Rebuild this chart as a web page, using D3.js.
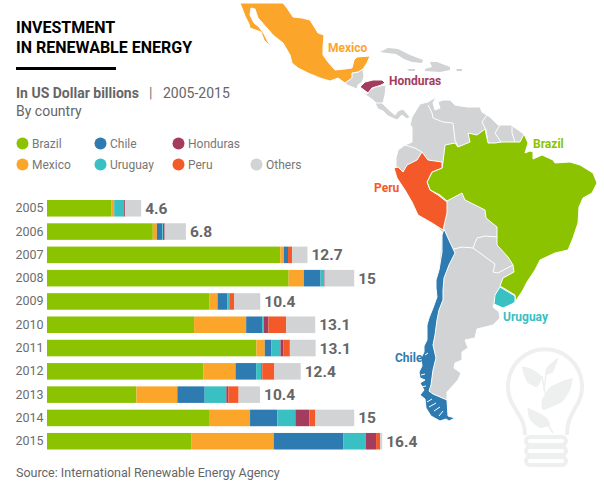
<!DOCTYPE html>
<html>
<head>
<meta charset="utf-8">
<script src="https://d3js.org/d3.v7.min.js"></script>
<style>
  body { margin: 0; background: #fff; }
  text { font-family: Roboto, sans-serif; }
</style>
</head>
<body>
<svg width="604" height="491"></svg>
<script>
// Data for the chart
const years = ["2005","2006","2007","2008","2009","2010","2011","2012","2013","2014","2015"];
const totals = ["4.6","6.8","12.7","15","10.4","13.1","13.1","12.4","10.4","15","16.4"];
const brazil =   [3.14, 5.18, 11.42, 11.83, 7.94, 7.20, 10.25, 7.65, 4.38, 7.93, 7.08];
const mexico =   [0.15, 0.20, 0.18, 0.74, 0.41, 2.55, 0.41, 1.58, 2.00, 2.01, 4.02];
const chile =    [0, 0.27, 0.20, 0.82, 0.47, 0.78, 0.33, 1.01, 1.34, 1.34, 3.40];
const uruguay =  [0.49, 0.03, 0, 0.15, 0.10, 0.08, 0.44, 0.25, 1.06, 0.88, 1.11];
const honduras = [0.05, 0.08, 0, 0.05, 0, 0.23, 0.15, 0.05, 0.10, 0.69, 0.50];
const peru =     [0, 0, 0.20, 0, 0.25, 0.87, 0.31, 0.59, 0.50, 0.29, 0.20];
const others =   [0.78, 1.04, 0.75, 1.45, 1.27, 1.42, 1.26, 1.29, 1.05, 1.90, 0.10];

const seriesNames = ["Brazil","Mexico","Chile","Uruguay","Honduras","Peru","Others"];
const seriesValues = [brazil, mexico, chile, uruguay, honduras, peru, others];
const colors = {
  Brazil: "#8bc300", Mexico: "#fca52b", Chile: "#2e7bb2", Uruguay: "#38c0c3",
  Honduras: "#a33c5d", Peru: "#f4592a", Others: "#d1d3d4"
};
const legendRows = [["Brazil","Chile","Honduras"],["Mexico","Uruguay","Peru","Others"]];

// Map outlines
const landShape = [[410,125],[412,117],[420,104],[428,102],[436,97],[433,103],[435,110],[440,108],[438,102],[443,100],[450,100],[455,105],[467,107],[480,107],[482,112],[490,117],[498,125],[511,125],[524,134],[530,200],[515,300],[494,304],[493,307],[499,312],[500,318],[493,325],[477,329],[475,338],[465,340],[468,348],[462,352],[462,360],[455,363],[454,368],[461,373],[458,380],[447,392],[447,401],[428,392],[426,340],[436,300],[442,232],[425,215],[402,172],[396,167],[396,158],[398,150],[405,145],[412,142],[412,127]];
const brazilShape = [[445,145],[455,143],[458,147],[470,142],[468,133],[477,135],[485,129],[488,143],[495,143],[502,142],[513,142],[520,142],[524,134],[528,143],[525,153],[530,151],[533,152],[533,159],[542,155],[553,160],[555,163],[570,162],[580,165],[593,173],[597,183],[592,193],[583,198],[579,207],[578,223],[573,238],[568,250],[555,253],[540,260],[535,270],[527,282],[523,290],[515,302],[515,295],[500,286],[503,278],[514,272],[513,265],[508,257],[497,245],[497,227],[486,218],[485,210],[465,200],[462,193],[447,201],[440,195],[430,190],[427,182],[432,172],[442,168],[443,162]];
const peruShape = [[422,152],[428,160],[442,162],[442,168],[432,172],[427,182],[430,190],[438,195],[447,202],[447,213],[443,230],[432,223],[418,215],[412,202],[405,190],[397,178],[394,168],[398,167],[403,172],[407,165],[417,160]];
const chileShape = [[444,229],[448,238],[455,253],[449,265],[444,278],[443,290],[443,300],[439,310],[437,320],[435,335],[433,345],[436,358],[433,370],[431,385],[429,391],[433,394],[447,400],[448,416],[455,418],[449,421],[446,419],[440,421],[431,416],[426,408],[425,399],[420,395],[424,390],[420,383],[425,380],[420,378],[419,372],[422,366],[421,358],[424,352],[424,346],[427,340],[427,325],[429,318],[433,308],[437,297],[436,288],[436,280],[439,270],[442,252],[442,235]];
const uruguayShape = [[500,287],[515,296],[515,302],[512,304],[503,308],[494,304],[495,295]];
const mexicoShape = [[240,3],[283,3],[287,8],[293,17],[302,18],[310,20],[315,28],[318,33],[324,35],[323,47],[323,55],[328,62],[335,70],[345,69],[352,68],[354,60],[357,57],[370,56],[367,63],[363,69],[358,72],[352,73],[352,78],[345,83],[338,78],[330,81],[320,78],[308,73],[298,68],[292,63],[290,55],[283,43],[273,35],[267,28],[258,18],[255,9],[251,8],[250,15],[254,23],[259,27],[264,34],[268,42],[272,48],[264,40],[261,32],[250,28],[249,24],[245,16]];
const hondurasShape = [[360,87],[365,82],[373,80],[382,80],[385,83],[380,85.5],[375,87],[372,88],[368,93],[364,90]];
const grayShapes = [
  [[352,73],[358,72],[363,69],[364,77],[362,82],[358,85],[357,89],[347,85],[345,83]],
  [[357,89],[367,94],[370,90],[375,87],[386,85],[385,95],[383,103],[377,104],[373,100]],
  [[375,103],[382,103],[388,109],[395,115],[398,111],[403,109],[410,117],[407,119],[402,115],[397,120],[388,116],[383,111],[378,109]]
];
const islandShapes = [
  [[380,52],[388,48],[398,49],[410,55],[423,60],[422,63],[412,62],[404,59],[396,54],[387,53]],
  [[430,62],[437,62],[450,67],[450,70],[440,72],[425,71],[425,69],[432,67]],
  [[407,69],[415,69],[415,71],[409,71]],
  [[456,69],[462,69],[462,71],[457,71]]
];
const borderLines = [
  [[405,145],[415,148],[422,152]],
  [[428,105],[432,113],[433,118],[443,122],[453,123],[455,140],[458,147]],
  [[487,115],[482,122],[486,130],[488,143]],
  [[500,125],[495,133],[501,142]],
  [[512,127],[512,133],[515,142]],
  [[450,250],[462,247],[473,248],[477,238],[485,236],[497,237]],
  [[473,248],[495,264],[493,272],[498,273],[513,265]]
];
const fjordLines = [
  [[427,402],[432,399]], [[429,407],[436,403]], [[434,411],[440,407]], [[439,416],[443,411]],
  [[421,387],[426,386]], [[421,375],[425,374]], [[425,355],[428,353]],
  [[524,293],[527,289]]
];
const mapLabels = [
  ["Mexico", 328, 52, "Mexico"], ["Honduras", 389, 85, "Honduras"], ["Brazil", 533, 148, "Brazil"],
  ["Peru", 374, 192, "Peru"], ["Uruguay", 503, 321, "Uruguay"], ["Chile", 395, 362, "Chile"]
];

// Light bulb watermark
const bulbLeaves = [
  [[522,367],[532,369],[542,377],[537,387],[527,382]],
  [[558,358],[547,367],[545,375],[553,372]],
  [[572,378],[550,387],[542,400],[543,410],[562,402],[570,390]],
  [[528,408],[530,420],[540,428],[550,425],[546,417]]
];
const bulbStems = [
  [[542,376],[545,393]], [[544,390],[546,375]], [[548,425],[553,433]]
];
const bulbBase = [437, 447, 457];

const svg = d3.select("svg");

// Map
const line = d3.line();
const map = svg.append("g");
const fillShape = (pts, fill, stroke) => map.append("path")
    .attr("d", line(pts) + "Z")
    .attr("fill", fill)
    .attr("stroke", stroke)
    .attr("stroke-width", 1)
    .attr("stroke-linejoin", "round");

islandShapes.forEach(s => fillShape(s, colors.Others, "none"));
grayShapes.forEach(s => fillShape(s, colors.Others, "#fff"));
fillShape(landShape, colors.Others, "#fff");
borderLines.forEach(l => map.append("path").attr("d", line(l)).attr("fill", "none").attr("stroke", "#fff").attr("stroke-width", 1));
fillShape(mexicoShape, colors.Mexico, "#fff");
fillShape(hondurasShape, colors.Honduras, "#fff");
fillShape(brazilShape, colors.Brazil, "#fff");
fillShape(peruShape, colors.Peru, "#fff");
fillShape(chileShape, colors.Chile, "#fff");
fillShape(uruguayShape, colors.Uruguay, "#fff");
fjordLines.forEach(l => map.append("path").attr("d", line(l)).attr("fill", "none").attr("stroke", "#fff").attr("stroke-width", 1));

svg.selectAll(".map-label")
  .data(mapLabels)
  .enter()
  .append("text")
    .attr("class", "map-label")
    .text(d => d[0])
    .attr("x", d => d[1])
    .attr("y", d => d[2])
    .attr("font-size", "12px")
    .attr("font-weight", 700)
    .attr("fill", d => colors[d[3]]);

// Bulb
const bulb = svg.append("g").attr("fill", "none").attr("stroke", "#eeefef").attr("stroke-width", 4);
bulb.append("path").attr("d", "M525,435 C525,420 518,415 515,408 A37,37 0 1 1 575,408 C572,415 567,420 567,435");
bulb.selectAll("rect")
  .data(bulbBase)
  .enter()
  .append("rect")
    .attr("x", 526).attr("y", d => d).attr("width", 40).attr("height", 8).attr("rx", 4);
const leafLine = d3.line().curve(d3.curveCardinalClosed.tension(0.5));
bulbLeaves.forEach(l => svg.append("path").attr("d", leafLine(l)).attr("fill", "#eeefef"));
bulbStems.forEach(l => svg.append("path").attr("d", line(l)).attr("stroke", "#eeefef").attr("stroke-width", 1.5));

// Title block
svg.append("text").text("INVESTMENT").attr("x", 16).attr("y", 33).attr("font-size", "16px").attr("font-weight", 700).attr("fill", "#000");
svg.append("text").text("IN RENEWABLE ENERGY").attr("x", 16).attr("y", 53).attr("font-size", "16px").attr("font-weight", 700).attr("fill", "#000");
svg.append("rect").attr("x", 16).attr("y", 67).attr("width", 100).attr("height", 3).attr("fill", "#000");
svg.append("text").text("In US Dollar billions").attr("x", 16).attr("y", 98).attr("font-size", "14px").attr("font-weight", 700).attr("fill", "#666");
svg.append("text").text("|").attr("x", 149).attr("y", 98).attr("font-size", "14px").attr("fill", "#777");
svg.append("text").text("2005-2015").attr("x", 163).attr("y", 98).attr("font-size", "14px").attr("fill", "#666");
svg.append("text").text("By country").attr("x", 16).attr("y", 116).attr("font-size", "14px").attr("fill", "#666");

// Legend
const legendX = d3.scalePoint().domain(d3.range(4)).range([22.5, 256.5]);
const legendY = d3.scalePoint().domain(d3.range(2)).range([143.5, 164.5]);
legendRows.forEach((row, r) => {
  const g = svg.append("g").selectAll("g").data(row).enter().append("g")
      .attr("transform", (d, i) => `translate(${legendX(i)},${legendY(r)})`);
  g.append("circle").attr("r", 6).attr("fill", d => colors[d]);
  g.append("text").text(d => d).attr("x", 9.5).attr("y", 4.5).attr("font-size", "12px").attr("fill", "#777");
});

// Scales
const xScale = d3.scaleLinear().domain([0, 16.4]).range([47, 382]);
const yScale = d3.scaleBand().domain(years).range([200, 449.5]).paddingInner(0.29);

// Stacked bars
const rows = years.map((y, i) => {
  const row = { year: y };
  seriesNames.forEach((n, s) => { row[n] = seriesValues[s][i]; });
  return row;
});
const stacked = d3.stack().keys(seriesNames)(rows);

svg.append("g").selectAll("g")
  .data(stacked)
  .enter()
  .append("g")
    .attr("fill", d => colors[d.key])
  .selectAll("rect")
  .data(d => d)
  .enter()
  .append("rect")
    .attr("x", d => xScale(d[0]))
    .attr("y", d => yScale(d.data.year))
    .attr("width", d => xScale(d[1]) - xScale(d[0]))
    .attr("height", yScale.bandwidth());

// Year labels
const yAxis = d3.axisLeft(yScale).tickSize(0).tickPadding(0);
const axisG = svg.append("g").attr("transform", "translate(43.5,0)").call(yAxis);
axisG.select(".domain").remove();
axisG.selectAll("text").attr("font-family", "Roboto, sans-serif").attr("font-size", "12.5px").attr("fill", "#6d6d6d");

// Totals
svg.selectAll(".total")
  .data(rows)
  .enter()
  .append("text")
    .attr("class", "total")
    .text((d, i) => totals[i])
    .attr("x", d => xScale(d3.sum(seriesNames, n => d[n])) + 4)
    .attr("y", d => yScale(d.year) + yScale.bandwidth() / 2 + 5.5)
    .attr("font-size", "15.5px")
    .attr("font-weight", 700)
    .attr("fill", "#666");

// Source
svg.append("text").text("Source: International Renewable Energy Agency").attr("x", 16).attr("y", 477).attr("font-size", "12.5px").attr("fill", "#666");
</script>
</body>
</html>
